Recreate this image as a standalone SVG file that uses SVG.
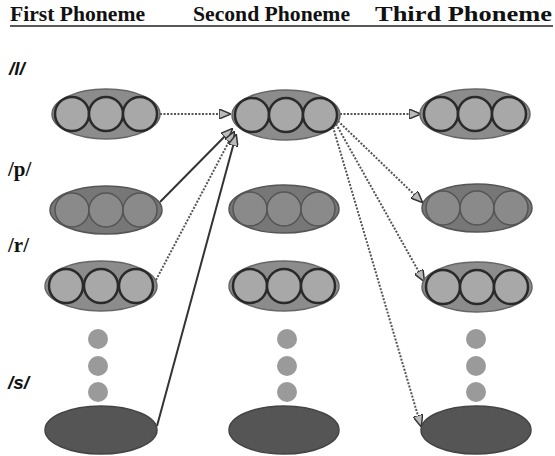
<svg xmlns="http://www.w3.org/2000/svg" width="555" height="456" viewBox="0 0 555 456">
<style>
.title{font-family:"Liberation Serif","Times New Roman",serif;font-weight:bold;font-size:22px;fill:#111}
.lab{font-family:"Liberation Sans",Arial,sans-serif;font-weight:bold;font-style:italic;font-size:19px;fill:#111}
.labs{font-family:"Liberation Serif","Times New Roman",serif;font-weight:bold;font-size:21px;fill:#111}
.e1{fill:#8c8c8c;stroke:#666;stroke-width:1.5}
.c1{fill:#a8a8a8;stroke:#2a2a2a;stroke-width:2.5}
.e2{fill:#777;stroke:#555;stroke-width:1.5}
.c2{fill:#8a8a8a;stroke:#555;stroke-width:1.5}
.e3{fill:#555;stroke:#444;stroke-width:1.5}
.dot{fill:#9a9a9a}
.ln{fill:none;stroke:#333;stroke-width:2}
.ld{fill:none;stroke:#555;stroke-width:2;stroke-dasharray:2 1.5}
</style>
<defs>
<marker id="ah" markerWidth="12" markerHeight="10" refX="11" refY="5" orient="auto" markerUnits="userSpaceOnUse">
<path d="M0,0 L12,5 L0,10 Z" fill="#bbb" stroke="#333" stroke-width="1.5"/>
</marker>
</defs>
<rect width="555" height="456" fill="#fff"/>

<g id="titles">
<text class="title" x="10" y="21" textLength="135" lengthAdjust="spacingAndGlyphs">First Phoneme</text>
<text class="title" x="193" y="21" textLength="157" lengthAdjust="spacingAndGlyphs">Second Phoneme</text>
<text class="title" x="375" y="21" textLength="177" lengthAdjust="spacingAndGlyphs">Third Phoneme</text>
<line x1="10" y1="26" x2="553" y2="26" stroke="#222" stroke-width="1.5"/>
</g>

<g id="labels">
<text class="lab" x="9" y="75">/l/</text>
<text class="labs" x="8" y="176">/p/</text>
<text class="labs" x="8" y="252">/r/</text>
<text class="lab" x="8" y="389">/s/</text>
</g>

<g id="connectors">
<line class="ld" x1="160" y1="114" x2="230" y2="114" marker-end="url(#ah)"/>
<line class="ld" x1="340" y1="114" x2="420" y2="114" marker-end="url(#ah)"/>
<line class="ln" x1="160" y1="202" x2="232" y2="129" marker-end="url(#ah)"/>
<line class="ld" x1="156" y1="280" x2="234" y2="132" marker-end="url(#ah)"/>
<line class="ln" x1="157" y1="426" x2="236" y2="135" marker-end="url(#ah)"/>
<line class="ld" x1="338" y1="121" x2="422" y2="202" marker-end="url(#ah)"/>
<line class="ld" x1="336" y1="124" x2="424" y2="281" marker-end="url(#ah)"/>
<line class="ld" x1="333" y1="127" x2="421" y2="426" marker-end="url(#ah)"/>
</g>

<g id="n-l1">
<ellipse class="e1" cx="106" cy="114" rx="54" ry="25"/>
<circle class="c1" cx="72" cy="114" r="17"/><circle class="c1" cx="106" cy="114" r="17"/><circle class="c1" cx="140" cy="114" r="17"/>
</g>
<g id="n-l2">
<ellipse class="e1" cx="286" cy="115" rx="54" ry="25"/>
<circle class="c1" cx="252" cy="115" r="17"/><circle class="c1" cx="286" cy="115" r="17"/><circle class="c1" cx="320" cy="115" r="17"/>
</g>
<g id="n-l3">
<ellipse class="e1" cx="475" cy="114" rx="55" ry="25"/>
<circle class="c1" cx="441" cy="114" r="17"/><circle class="c1" cx="475" cy="114" r="17"/><circle class="c1" cx="509" cy="114" r="17"/>
</g>

<g id="n-p1">
<ellipse class="e2" cx="106" cy="210" rx="56" ry="24"/>
<circle class="c2" cx="72" cy="210" r="17"/><circle class="c2" cx="106" cy="210" r="17"/><circle class="c2" cx="140" cy="210" r="17"/>
</g>
<g id="n-p2">
<ellipse class="e2" cx="284" cy="209" rx="55" ry="24"/>
<circle class="c2" cx="250" cy="209" r="17"/><circle class="c2" cx="284" cy="209" r="17"/><circle class="c2" cx="318" cy="209" r="17"/>
</g>
<g id="n-p3">
<ellipse class="e2" cx="477" cy="208" rx="55" ry="24"/>
<circle class="c2" cx="443" cy="208" r="17"/><circle class="c2" cx="477" cy="208" r="17"/><circle class="c2" cx="511" cy="208" r="17"/>
</g>

<g id="n-r1">
<ellipse class="e1" cx="101" cy="286" rx="56" ry="25"/>
<circle class="c1" cx="66" cy="286" r="17"/><circle class="c1" cx="101" cy="286" r="17"/><circle class="c1" cx="136" cy="286" r="17"/>
</g>
<g id="n-r2">
<ellipse class="e1" cx="284" cy="286" rx="55" ry="25"/>
<circle class="c1" cx="250" cy="286" r="17"/><circle class="c1" cx="284" cy="286" r="17"/><circle class="c1" cx="318" cy="286" r="17"/>
</g>
<g id="n-r3">
<ellipse class="e1" cx="477" cy="287" rx="55" ry="25"/>
<circle class="c1" cx="443" cy="287" r="17"/><circle class="c1" cx="477" cy="287" r="17"/><circle class="c1" cx="511" cy="287" r="17"/>
</g>

<g id="dots">
<circle class="dot" cx="98" cy="339" r="10"/><circle class="dot" cx="98" cy="366" r="10"/><circle class="dot" cx="98" cy="392" r="10"/>
<circle class="dot" cx="287" cy="339" r="10"/><circle class="dot" cx="287" cy="366" r="10"/><circle class="dot" cx="287" cy="392" r="10"/>
<circle class="dot" cx="476" cy="339" r="10"/><circle class="dot" cx="476" cy="366" r="10"/><circle class="dot" cx="476" cy="392" r="10"/>
</g>

<g id="n-s1"><ellipse class="e3" cx="101" cy="430" rx="56" ry="24"/></g>
<g id="n-s2"><ellipse class="e3" cx="284" cy="430" rx="55" ry="24"/></g>
<g id="n-s3"><ellipse class="e3" cx="476" cy="430" rx="55" ry="24"/></g>
</svg>
